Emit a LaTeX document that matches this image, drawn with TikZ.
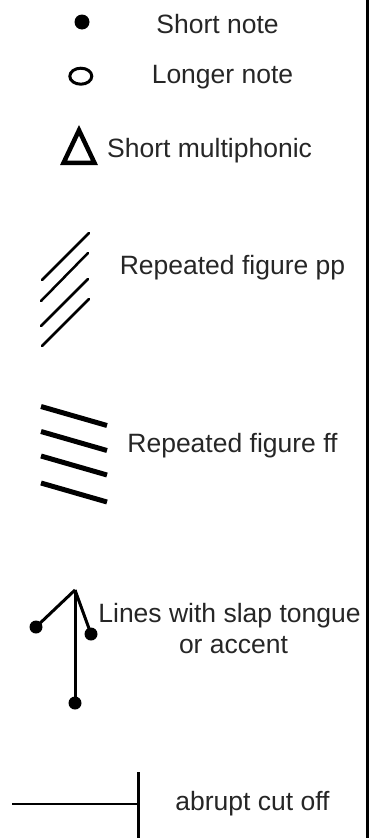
\documentclass[tikz,border=0pt]{standalone}
\usepackage{fontspec}
\setmainfont{Liberation Sans}[Ligatures=NoCommon]
\begin{document}
\begin{tikzpicture}[x=1pt,y=-1pt,
  lbl/.style={inner sep=0pt,anchor=base,text=black!85,font=\fontsize{26.5}{31}\selectfont},
  dotmark/.style={circle,fill=black,inner sep=0pt,minimum size=#1},
  thinstroke/.style={line width=2.5pt,line cap=round},
  thickstroke/.style={line width=5pt},
  stemline/.style={line width=3pt}]
\useasboundingbox (0,0) rectangle (369,838);
% right border
\draw[line width=2.5pt] (367.3,0) -- (367.3,838);
% short note
\node[dotmark=15pt] (sn) at (82,22) {};
\node[lbl] (snt) at (217.5,33) {Short note};
% longer note
\draw[line width=3pt] (80.8,76.2) ellipse [x radius=11pt, y radius=8pt];
\node[lbl] (lnt) at (222.5,83) {Longer note};
% short multiphonic
\draw[line width=4.5pt,line join=miter] (79,130.25) -- (63.6,162.75) -- (94.4,162.75) -- cycle;
\node[lbl,anchor=base west] (smt) at (107,157) {Short multiphonic};
% repeated figure pp
\draw[thinstroke] (42,280) -- (89,233);
\draw[thinstroke] (41,301) -- (88,253);
\draw[thinstroke] (41,326) -- (88,279);
\draw[thinstroke] (42,346) -- (89,299);
\node[lbl] (ppt) at (232.5,274) {Repeated figure pp};
% repeated figure ff
\draw[thickstroke] (41,406.5) -- (107,425.5);
\draw[thickstroke] (41,431.5) -- (107,450.5);
\draw[thickstroke] (41,456) -- (107,475);
\draw[thickstroke] (41,483) -- (107,502);
\node[lbl] (fft) at (232.5,452) {Repeated figure ff};
% slap tongue
\coordinate (apex) at (75,590);
\node[dotmark=13pt] (ld) at (36,627) {};
\node[dotmark=13pt] (rd) at (91,634) {};
\node[dotmark=13pt] (bd) at (75,703) {};
\draw[stemline] (apex) -- (ld.center);
\draw[stemline] (apex) -- (rd.center);
\draw[stemline] (apex) -- (bd.center);
\node[lbl] (st1) at (229.5,622) {Lines with slap tongue};
\node[lbl] (st2) at (233.5,653) {or accent};
% abrupt cut off
\coordinate (hl) at (12,804);
\coordinate (bar) at (138,804);
\coordinate (bartop) at (138,772);
\coordinate (barbot) at (138,838);
\draw[line width=2.5pt] (hl) -- (bar);
\draw[line width=3pt] (bartop) -- (barbot);
\node[lbl] (act) at (252.5,810) {abrupt cut off};
\end{tikzpicture}
\end{document}
